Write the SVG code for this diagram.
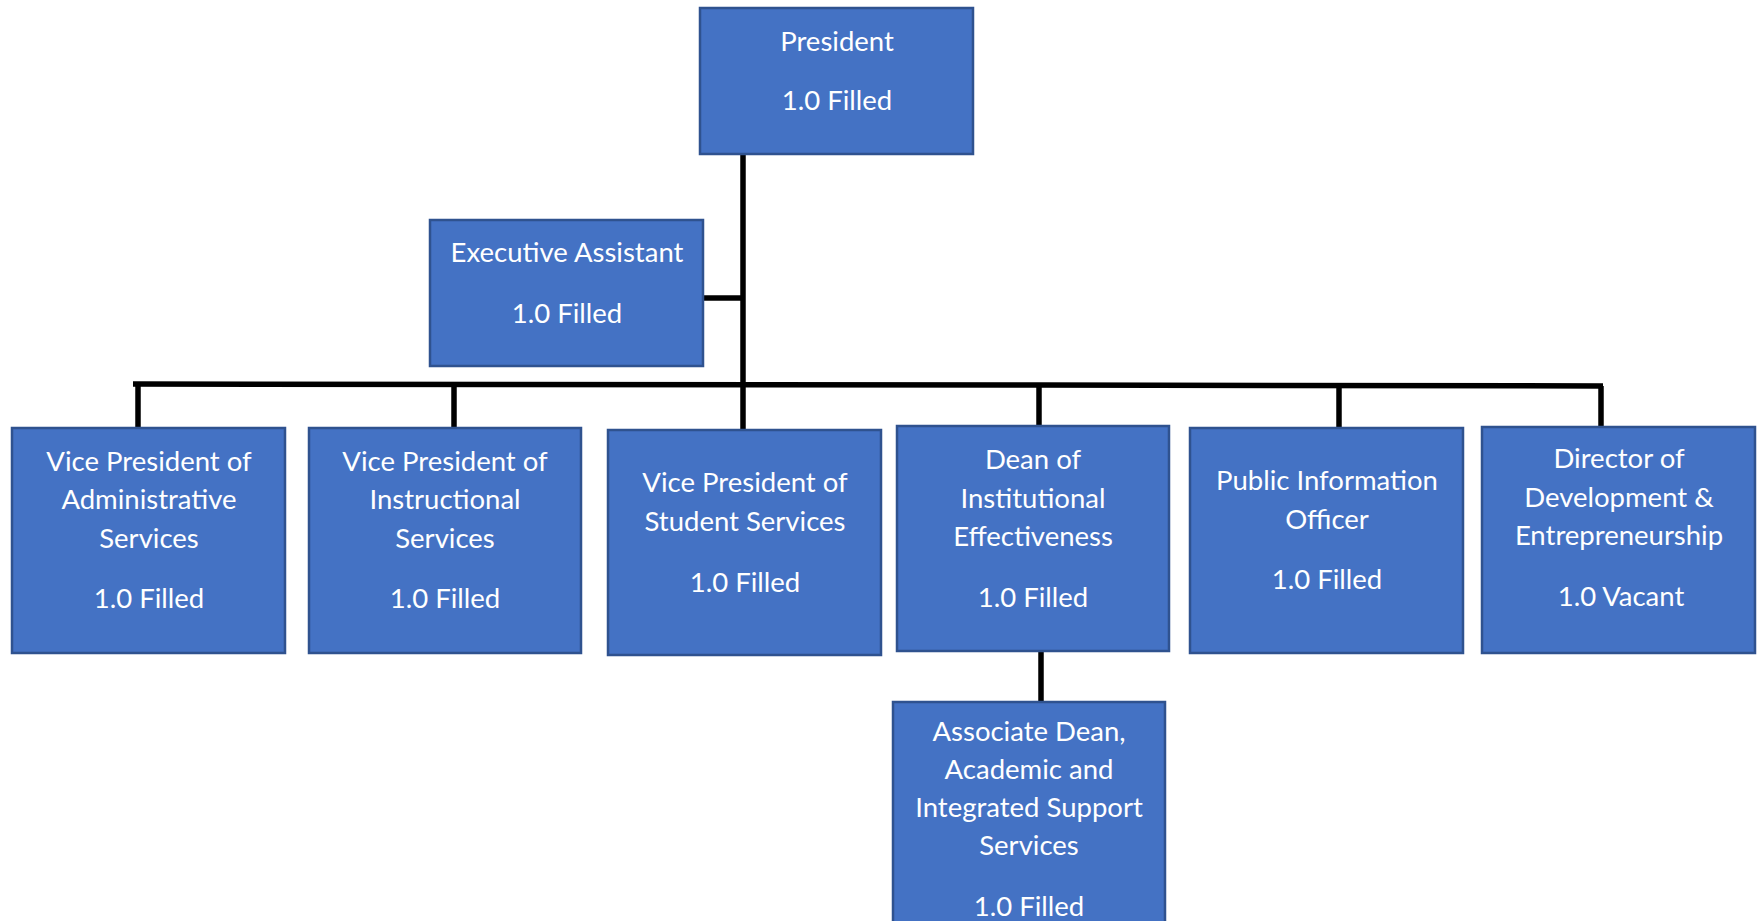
<svg xmlns="http://www.w3.org/2000/svg" width="1762" height="921" viewBox="0 0 1762 921">
<style>
.box{fill:#4472C4;stroke:#2F528F;stroke-width:2.5}
.t{font-family:Lato,"Open Sans","Liberation Sans",sans-serif;font-size:27.5px;fill:#FFFFFF;text-anchor:middle}
.c{fill:none;stroke:#000000;stroke-width:5.5}
</style>
<rect width="1762" height="921" fill="#FFFFFF"/>
<g id="connectors">
<line class="c" x1="743" y1="155" x2="743" y2="430"/>
<line class="c" x1="703" y1="298" x2="743" y2="298"/>
<polyline class="c" points="133,384 1038,385 1603,386"/>
<line class="c" x1="138" y1="384" x2="138" y2="428"/>
<line class="c" x1="454" y1="384" x2="454" y2="428"/>
<line class="c" x1="1039" y1="385" x2="1039" y2="426"/>
<line class="c" x1="1339" y1="385.5" x2="1339" y2="428"/>
<line class="c" x1="1601" y1="386" x2="1601" y2="427"/>
<line class="c" x1="1041" y1="651" x2="1041" y2="702"/>
</g>
<g id="president">
<rect class="box" x="700" y="8" width="273" height="146"/>
<text class="t" x="837" y="51">President</text>
<text class="t" x="837" y="110">1.0 Filled</text>
</g>
<g id="executive-assistant">
<rect class="box" x="430" y="220" width="273" height="146"/>
<text class="t" x="567" y="262">Executive Assistant</text>
<text class="t" x="567" y="323">1.0 Filled</text>
</g>
<g id="vp-admin">
<rect class="box" x="12" y="428" width="273" height="225"/>
<text class="t" x="149" y="471">Vice President of</text>
<text class="t" x="149" y="509">Administrative</text>
<text class="t" x="149" y="548">Services</text>
<text class="t" x="149" y="608">1.0 Filled</text>
</g>
<g id="vp-instructional">
<rect class="box" x="309" y="428" width="272" height="225"/>
<text class="t" x="445" y="471">Vice President of</text>
<text class="t" x="445" y="509">Instructional</text>
<text class="t" x="445" y="548">Services</text>
<text class="t" x="445" y="608">1.0 Filled</text>
</g>
<g id="vp-student">
<rect class="box" x="608" y="430" width="273" height="225"/>
<text class="t" x="745" y="492">Vice President of</text>
<text class="t" x="745" y="531">Student Services</text>
<text class="t" x="745" y="592">1.0 Filled</text>
</g>
<g id="dean-ie">
<rect class="box" x="897" y="426" width="272" height="225"/>
<text class="t" x="1033" y="469">Dean of</text>
<text class="t" x="1033" y="508">Institutional</text>
<text class="t" x="1033" y="546">Effectiveness</text>
<text class="t" x="1033" y="607">1.0 Filled</text>
</g>
<g id="pio">
<rect class="box" x="1190" y="428" width="273" height="225"/>
<text class="t" x="1327" y="490">Public Information</text>
<text class="t" x="1327" y="529">Officer</text>
<text class="t" x="1327" y="589">1.0 Filled</text>
</g>
<g id="director-dev">
<rect class="box" x="1482" y="427" width="273" height="226"/>
<text class="t" x="1619" y="468">Director of</text>
<text class="t" x="1619" y="507">Development &amp;</text>
<text class="t" x="1619" y="545">Entrepreneurship</text>
<text class="t" x="1621" y="606">1.0 Vacant</text>
</g>
<g id="associate-dean">
<rect class="box" x="893" y="702" width="272" height="240"/>
<text class="t" x="1029" y="741">Associate Dean,</text>
<text class="t" x="1029" y="779">Academic and</text>
<text class="t" x="1029" y="817">Integrated Support</text>
<text class="t" x="1029" y="855">Services</text>
<text class="t" x="1029" y="916">1.0 Filled</text>
</g>
</svg>
